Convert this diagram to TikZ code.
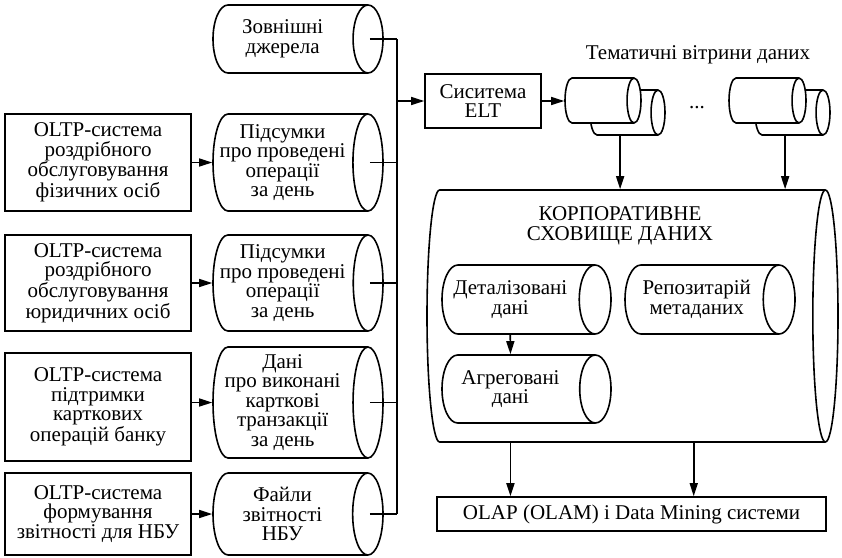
\documentclass[tikz,border=0pt]{standalone}
\usepackage{fontspec}
\setmainfont{Liberation Serif}
\usetikzlibrary{shapes.geometric,arrows.meta}
\begin{document}
\begin{tikzpicture}[x=1pt,y=-1pt,line width=1.6pt,>={Triangle[length=13pt,width=8pt]},
	txt/.style={font=\fontsize{21}{19.5}\selectfont, align=center},
	box/.style={txt, draw, rectangle, inner sep=0pt},
	cyl/.style={draw, cylinder, anchor=shape center, inner xsep=0pt, fill=white}]
		\useasboundingbox (0,0) rectangle (842,557);
		
		% OLTP
		\node[box, minimum width=186, minimum height=97] (b1) at (98,162.5) {OLTP-система\\роздрібного\\обслуговування\\фізичних осіб};
		\node[box, minimum width=186, minimum height=96] (b2) at (98,283) {OLTP-система\\роздрібного\\обслуговування\\юридичних осіб};
		\node[box, minimum width=186, minimum height=108] (b3) at (98,407) {OLTP-система\\підтримки\\карткових\\операцій банку};
		\node[box, minimum width=186, minimum height=82] (b4) at (98,514) {OLTP-система\\формування\\звітності для НБУ};
		
		% dzherela
		\node[cyl, minimum height=170, inner ysep=34, shape aspect=.44,
			label={[txt]center:{Зовнішні\\джерела}}] (c0) at (298,39) {};
		\node[cyl, minimum height=170, inner ysep=48.5, shape aspect=.31,
			label={[txt]center:{Підсумки\\про проведені\\операції\\за день}}] (c1) at (298,162.5) {};
		\node[cyl, minimum height=170, inner ysep=48, shape aspect=.31,
			label={[txt]center:{Підсумки\\про проведені\\операції\\за день}}] (c2) at (298,283) {};
		\node[cyl, minimum height=170, inner ysep=55.5, shape aspect=.27,
			label={[txt]center:{Дані\\про виконані\\карткові\\транзакції\\за день}}] (c3) at (298,402.5) {};
		\node[cyl, minimum height=170, inner ysep=41, shape aspect=.37,
			label={[txt]center:{Файли\\звітності\\НБУ}}] (c4) at (298,514) {};
		
		\coordinate (bus) at (397,0);
		\node[box, minimum width=116, minimum height=54] (elt) at (483,101) {Сиситема\\ELT};
		
		% vitryny
		\node[txt] (tv) at (698,55) {Тематичні вітрини даних};
		\node[cyl, minimum height=75, inner ysep=22.5, shape aspect=.31] (v1b) at (627.5,112.5) {};
		\node[cyl, minimum height=76, inner ysep=22.5, shape aspect=.31] (v1) at (603,100.5) {};
		\node[cyl, minimum height=75, inner ysep=22.5, shape aspect=.31] (v2b) at (792.5,112.5) {};
		\node[cyl, minimum height=77, inner ysep=22.5, shape aspect=.31] (v2) at (767.5,100.5) {};
		\node[txt] (dots) at (697,108) {...};
		
		% skhovyshche
		\node[cyl, minimum height=411, inner ysep=126, shape aspect=.1] (sd) at (632.5,316) {};
		\node[txt] (sdt) at (620,226) {КОРПОРАТИВНЕ\\СХОВИЩЕ ДАНИХ};
		\node[cyl, minimum height=169, inner ysep=34.5, shape aspect=.46,
			label={[txt]center:{Деталізовані\\дані}}] (det) at (526.5,299.5) {};
		\node[cyl, minimum height=170, inner ysep=34.5, shape aspect=.46,
			label={[txt,xshift=3pt]center:{Репозитарій\\метаданих}}] (rep) at (710,299.5) {};
		\node[cyl, minimum height=169, inner ysep=34, shape aspect=.46,
			label={[txt]center:{Агреговані\\дані}}] (agg) at (526.5,389) {};
		
		\node[box, minimum width=389, minimum height=34] (olap) at (631.5,514) {OLAP (OLAM) і Data Mining системи};
		
		\draw[->] (b1) -- (c1);
		\draw[->] (b2) -- (c2);
		\draw[->] (c3.west -| b3.east) -- (c3.west);
		\draw[->] (b4) -- (c4);
		
		\foreach \c in {c0,c1,c2,c3,c4}
			\draw ([xshift=-14pt]\c.east) -- (\c.east -| bus);
		\draw (c0.east -| bus) -- (c4.east -| bus);
		\draw[->] (bus |- elt.west) -- (elt.west);
		\draw[->] (elt.east) -- (elt.east -| v1.west);
		
		\draw[->] (v1b.south) -- (v1b.south |- sd.north);
		\draw[->] (v2b.south) -- (v2b.south |- sd.north);
		\draw[->] (det.south) -- (agg.north);
		\draw[->] (agg.south |- sd.south) -- (agg.south |- olap.north);
		\draw[->] (rep.south |- sd.south) -- (rep.south |- olap.north);
		\end{tikzpicture}
\end{document}
